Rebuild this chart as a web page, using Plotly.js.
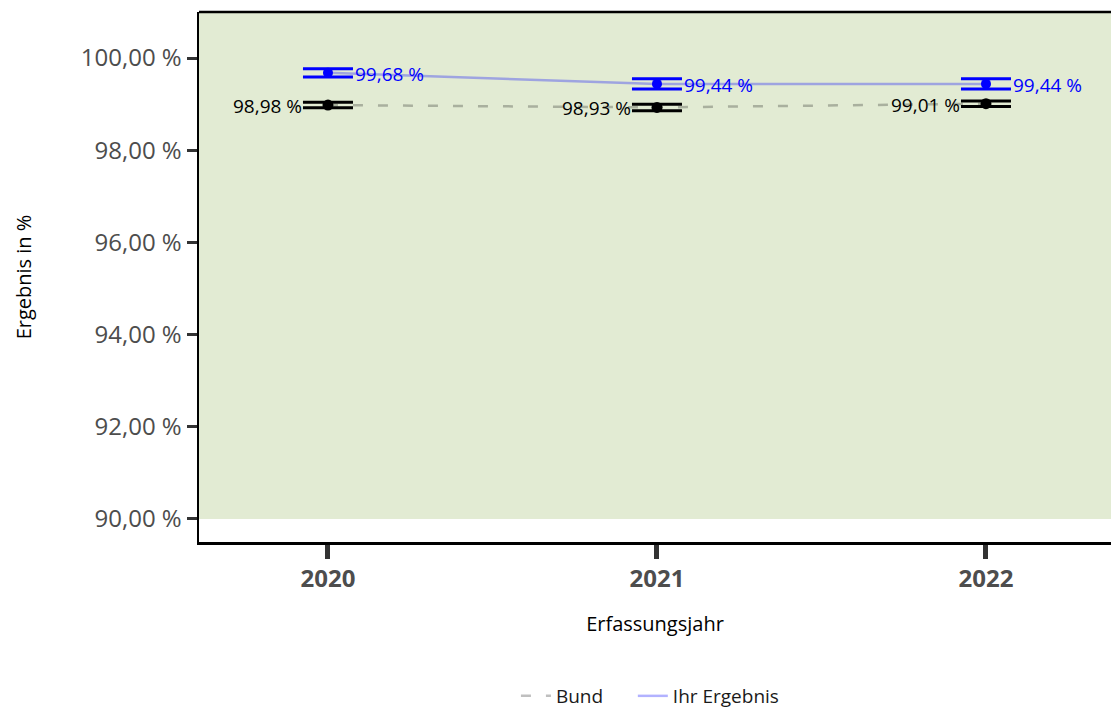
<!DOCTYPE html>
<html>
<head>
<meta charset="utf-8">
<script src="https://cdn.plot.ly/plotly-3.0.1.min.js"></script>
<style>html,body{margin:0;padding:0;background:#fff;}#chart{width:1111px;height:715px;}</style>
</head>
<body>
<div id="chart"></div>
<script>
// Data
const years = [2020, 2021, 2022];
const bundValues = [98.98, 98.93, 99.01];
const bundCI = [0.06, 0.07, 0.06];
const ihrValues = [99.68, 99.44, 99.44];
const ihrCI = [0.09, 0.11, 0.11];
const yTicks = [90, 92, 94, 96, 98, 100];
const seriesNames = ['Bund', 'Ihr Ergebnis'];

const FONT = 'Open Sans, Lato, sans-serif';
const fmt = v => v.toFixed(2).replace('.', ',') + ' %';
const PAD = '\u00a0\u00a0\u00a0\u00a0\u00a0';

const traces = [
  {x: years, y: bundValues, name: seriesNames[0] + PAD, type: 'scatter', mode: 'lines',
   line: {color: 'rgba(0,0,0,0.25)', width: 2.5, dash: '10px,15px'}, hoverinfo: 'skip'},
  {x: years, y: ihrValues, name: seriesNames[1], type: 'scatter', mode: 'lines',
   line: {color: 'rgba(0,0,255,0.3)', width: 2.5}, hoverinfo: 'skip'},
  {x: years, y: bundValues, type: 'scatter', mode: 'markers', showlegend: false,
   marker: {color: '#000', size: 11},
   error_y: {type: 'data', array: bundCI, visible: true, color: '#000', thickness: 3, width: 25}},
  {x: years, y: ihrValues, type: 'scatter', mode: 'markers', showlegend: false,
   marker: {color: '#0000ff', size: 10},
   error_y: {type: 'data', array: ihrCI, visible: true, color: '#0000ff', thickness: 3, width: 25}}
];

const annotations = [];
years.forEach((yr, i) => {
  annotations.push({x: yr, y: ihrValues[i], xref: 'x', yref: 'y', text: fmt(ihrValues[i]),
    showarrow: false, xanchor: 'left', yanchor: 'middle', xshift: 25, yshift: -1,
    font: {family: FONT, size: 19, color: '#0000ff'}});
  annotations.push({x: yr, y: bundValues[i], xref: 'x', yref: 'y', text: fmt(bundValues[i]),
    showarrow: false, xanchor: 'right', yanchor: 'middle', xshift: -24, yshift: -1,
    font: {family: FONT, size: 19, color: '#000'}});
});

const layout = {
  width: 1111, height: 715,
  margin: {l: 199, r: 0, t: 12, b: 173, autoexpand: false},
  paper_bgcolor: '#fff', plot_bgcolor: '#fff',
  font: {family: FONT, color: '#000'},
  showlegend: true,
  legend: {orientation: 'h', x: 0.585, xref: 'container', xanchor: 'center',
    y: -0.006, yref: 'container', yanchor: 'bottom', borderwidth: 0,
    font: {family: FONT, size: 19, color: '#1a1a1a'}},
  xaxis: {
    range: [2019.608, 2022.380], tickvals: years, ticktext: years.map(String),
    ticks: 'outside', ticklen: 14, tickwidth: 5, tickcolor: '#333',
    showline: true, linecolor: '#000', linewidth: 2.5, showgrid: false, zeroline: false,
    tickfont: {family: FONT, size: 24, color: '#4d4d4d', weight: 'bold'},
    title: {text: 'Erfassungsjahr', font: {family: FONT, size: 20, color: '#000'}, standoff: 24}
  },
  yaxis: {
    range: [89.5, 101.0], tickvals: yTicks, ticktext: yTicks.map(fmt),
    ticks: 'outside', ticklen: 10, tickwidth: 3, tickcolor: '#333',
    showline: true, linecolor: '#000', linewidth: 2.5, showgrid: false, zeroline: false,
    tickfont: {family: FONT, size: 24, color: '#4d4d4d'},
    title: {text: 'Ergebnis in %', font: {family: FONT, size: 20, color: '#000'}, standoff: 44}
  },
  shapes: [
    {type: 'rect', xref: 'paper', x0: 0, x1: 1, yref: 'y', y0: 90, y1: 101.0,
     fillcolor: '#e2ebd3', line: {width: 0}, layer: 'below'},
    {type: 'line', xref: 'paper', x0: 0, x1: 1, yref: 'paper', y0: 1, y1: 1,
     line: {color: '#000', width: 2.5}}
  ],
  annotations: annotations
};

Plotly.newPlot('chart', traces, layout, {displayModeBar: false, staticPlot: true});
</script>
</body>
</html>
